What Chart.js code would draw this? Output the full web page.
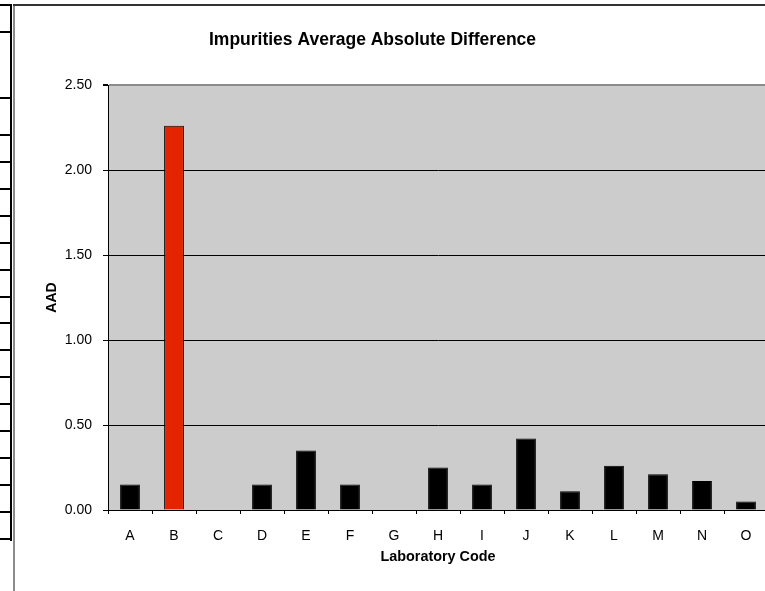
<!DOCTYPE html>
<html>
<head>
<meta charset="utf-8">
<script src="https://cdn.jsdelivr.net/npm/chart.js@4.4.1/dist/chart.umd.min.js"></script>
<style>
  html, body { margin:0; padding:0; background:#fff; overflow:hidden; width:765px; height:591px; }
  #wrap { position:absolute; left:-23px; top:0; width:791px; height:591px; }
  .frame-left { position:absolute; left:13px; top:5px; width:2px; height:586px; background:#8c8c8c; }
  .frame-top { position:absolute; left:13px; top:4px; width:752px; height:2px; background:#333; }
  .cellv { position:absolute; left:10px; top:4px; width:2px; height:537px; background:#000; }
  .cellh { position:absolute; left:0; width:12px; height:2px; background:#000; }
</style>
</head>
<body>
<div class="frame-left"></div>
<div class="frame-top"></div>
<div class="cellv"></div>
<div id="cells"></div>
<div id="wrap"><canvas id="c" width="791" height="591"></canvas></div>
<script>
// ---- data ----
const categories = ['A','B','C','D','E','F','G','H','I','J','K','L','M','N','O'];
const aadValues  = [0.15, 2.26, 0, 0.15, 0.35, 0.15, 0, 0.25, 0.15, 0.42, 0.11, 0.26, 0.21, 0.17, 0.05];
const yTickValues = [0, 0.5, 1, 1.5, 2, 2.5];
const highlightedLab = 'B';
const chartTitle = 'Impurities Average Absolute Difference';
const xAxisTitle = 'Laboratory Code';
const yAxisTitle = 'AAD';

// spreadsheet cell borders at the left edge (decoration)
const cellRows = [4, 31, 97, 134, 161, 188, 215, 242, 269, 296, 322, 349, 376, 403, 430, 457, 484, 511, 538];
const cellsDiv = document.getElementById('cells');
cellRows.forEach(y => {
  const d = document.createElement('div');
  d.className = 'cellh';
  d.style.top = y + 'px';
  cellsDiv.appendChild(d);
});

const FONT = "'Liberation Sans', Arial, sans-serif";

const plotBg = {
  id: 'plotBg',
  beforeDraw(chart) {
    const {ctx, chartArea:a} = chart;
    ctx.save();
    ctx.fillStyle = '#cccccc';
    ctx.fillRect(a.left, a.top, a.right - a.left, a.bottom - a.top);
    ctx.restore();
  }
};

new Chart(document.getElementById('c'), {
  type: 'bar',
  data: {
    labels: categories,
    datasets: [{
      data: aadValues,
      backgroundColor: categories.map(c => c === highlightedLab ? '#e32400' : '#000000'),
      borderColor: '#000000',
      borderWidth: 1,
      barPercentage: 0.45,
      categoryPercentage: 1
    }]
  },
  options: {
    responsive: false,
    animation: false,
    devicePixelRatio: 1,
    layout: { padding: 0 },
    plugins: {
      legend: { display: false },
      tooltip: { enabled: false },
      title: {
        display: true,
        text: chartTitle,
        color: '#000',
        font: { family: FONT, size: 17.5, weight: 'bold' },
        padding: { top: 29.5, bottom: 34.5 }
      }
    },
    scales: {
      x: {
        grid: { drawOnChartArea: false, drawTicks: true, tickLength: 4, color: '#000', tickColor: '#000', offset: true },
        border: { color: '#000', width: 1 },
        ticks: { color: '#000', font: { family: FONT, size: 14 }, padding: 14, maxRotation: 0, autoSkip: false },
        title: { display: true, text: xAxisTitle, color: '#000', font: { family: FONT, size: 14.4, weight: 'bold' }, padding: { top: 0, bottom: 25.4 } },
        afterFit(s) { s.height = 81; }
      },
      y: {
        min: 0, max: 2.5,
        afterBuildTicks(s) { s.ticks = yTickValues.map(v => ({ value: v })); },
        ticks: { color: '#000', font: { family: FONT, size: 14 }, padding: 11, callback: v => Number(v).toFixed(2) },
        grid: {
          color: c => (c.tick && c.tick.value === 2.5) ? '#8c8c8c' : '#000',
          lineWidth: c => (c.tick && c.tick.value === 2.5) ? 2 : 1,
          tickColor: '#000',
          tickLength: 5,
          drawTicks: true
        },
        border: { color: '#000', width: 1 },
        title: { display: true, text: yAxisTitle, color: '#000', font: { family: FONT, size: 14, weight: 'bold' }, padding: { top: 66.6, bottom: 0 } },
        afterFit(s) { s.width = 131; }
      }
    }
  },
  plugins: [plotBg]
});
</script>
</body>
</html>
